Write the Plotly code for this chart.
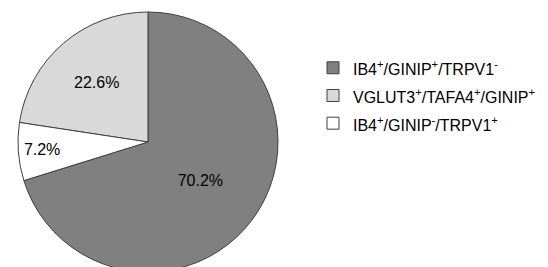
import plotly.graph_objects as go

labels = ["IB4<sup>+</sup>/GINIP<sup>+</sup>/TRPV1<sup>-</sup>",
          "VGLUT3<sup>+</sup>/TAFA4<sup>+</sup>/GINIP<sup>+</sup>",
          "IB4<sup>+</sup>/GINIP<sup>-</sup>/TRPV1<sup>+</sup>"]
values = [70.2, 22.6, 7.2]
colors = ["#808080", "#d9d9d9", "#ffffff"]

legend_labels = ['<span style="font-size:16px">' + l + '</span>' for l in labels]

fig = go.Figure()
fig.add_trace(go.Pie(
    labels=legend_labels, values=values, sort=False,
    direction="counterclockwise", rotation=0,
    marker=dict(colors=colors, line=dict(color="#404040", width=1)),
    texttemplate="%{value:.1f}%", textposition="inside", insidetextorientation="horizontal",
    textfont=dict(family="Liberation Sans, Arial", size=16, color="#000000"),
    domain=dict(x=[18/548, 278/548], y=[0, 1]),
    hoverinfo="skip",
))
fig.update_layout(
    width=548, height=272,
    margin=dict(l=0, r=0, t=12, b=0),
    paper_bgcolor="white", plot_bgcolor="white",
    font=dict(family="Liberation Sans, Arial", size=16, color="#000000"),
    legend=dict(x=313/548, xanchor="left", y=0.858, yanchor="top",
                traceorder="normal", font=dict(size=19)),
)
fig.write_html("out.html", config={"displayModeBar": False},
               post_script="document.body.style.margin='0';document.body.style.overflow='hidden';")
